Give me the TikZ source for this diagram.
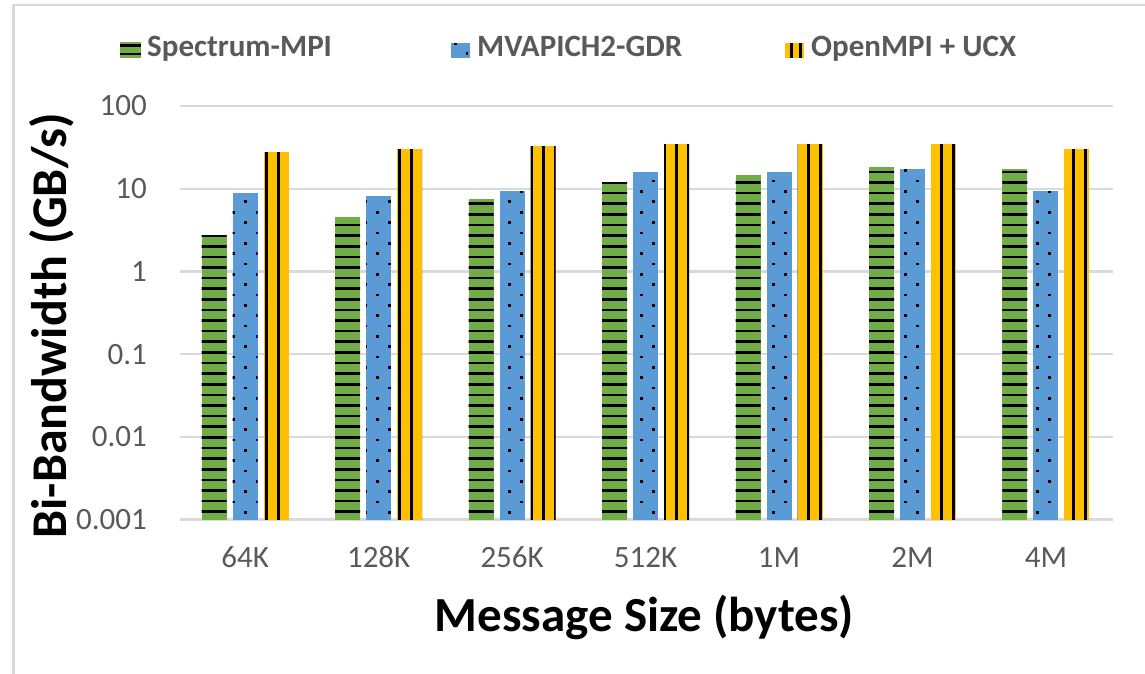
\documentclass[tikz,border=0pt]{standalone}
\usepackage{fontspec}
\setmainfont{Carlito}
\definecolor{gG}{HTML}{70AD47}
\definecolor{gB}{HTML}{5B9BD5}
\definecolor{gY}{HTML}{FFC000}
\definecolor{gridc}{HTML}{D9D9D9}
\definecolor{txtc}{HTML}{595959}
\newcommand\tickfont{\fontsize{31}{31}\selectfont}
\newcommand\legfont{\fontsize{31}{31}\selectfont\bfseries}
\newcommand\xtfont{\fontsize{49}{49}\selectfont\bfseries}
\newcommand\ytfont{\fontsize{50}{50}\selectfont\bfseries}
\newcommand\greenbar[2]{%
  \path[fill=gG] (#1-12.5,519.5) rectangle (#1+12.5,#2);
  \begin{scope}
    \clip (#1-12.5,519.5) rectangle (#1+12.5,#2);
    \foreach \k in {0,...,34}{\draw[black,line width=2.6pt] (#1-14,{511.7-10.62*\k}) -- (#1+14,{511.7-10.62*\k});}
  \end{scope}}
\newcommand\bluebar[2]{%
  \path[fill=gB] (#1-12.5,519.5) rectangle (#1+12.5,#2);
  \begin{scope}
    \clip (#1-12.5,519.5) rectangle (#1+12.5,#2);
    \foreach \j in {0,...,33}{%
      \pgfmathsetmacro\dy{512.3-10.35*\j}
      \pgfmathsetmacro\doff{245.7+12*mod(\j,2)}
      \pgfmathsetmacro\dst{floor((#1-12.5-\doff)/24)}
      \foreach \n in {0,1,2}{%
        \pgfmathsetmacro\dx{\doff+24*(\dst+\n)}
        \fill[black] (\dx-1.35,\dy-1.35) rectangle (\dx+1.35,\dy+1.35);
      }}
  \end{scope}}
\newcommand\yellowbar[2]{%
  \path[fill=gY] (#1-12.5,519.5) rectangle (#1+12.5,#2);
  \begin{scope}
    \clip (#1-12.5,519.5) rectangle (#1+12.5,#2);
    \pgfmathsetmacro\lst{floor((#1-12.5-266.5)/12.05)}
    \foreach \n in {0,1,2,3}{%
      \pgfmathsetmacro\lx{266.5+12.05*(\lst+\n)}
      \fill[black] (\lx-1.5,520) rectangle (\lx+1.5,#2);
    }
  \end{scope}}
\begin{document}
\begin{tikzpicture}[x=1pt,y=-1pt,
  gridline/.style={draw=gridc,line width=2.2pt},
  framel/.style={draw=gridc,line width=2.6pt},
  ticklab/.style={text=txtc,font=\tickfont,inner sep=0pt},
  leglab/.style={text=txtc,font=\legfont,inner sep=0pt,anchor=base west},
  title/.style={text=black,inner sep=0pt,anchor=base}]
\useasboundingbox (0,0) rectangle (1145,674);
% frame
\draw[framel] (13.3,674) -- (13.3,5) -- (1145,5);
% grid and tick labels
\foreach \v/\yy [count=\i] in {100/106,10/188.7,1/271.4,0.1/354.1,0.01/436.8,0.001/519.5}{
  \draw[gridline] (180,\yy) -- (1113,\yy);
  \node[ticklab,anchor=east] (tick\i) at (147,\yy) {\v};
}
% bars
\foreach \lab/\gt/\bt/\yt [count=\i from 0] in {64K/235/193/152,128K/217/196/149,256K/199/191/146,512K/182/172/144,1M/175/172/144,2M/167/169/144,4M/169/191/149}{
  \pgfmathsetmacro\cxm{245.2+133.46*\i}
  \pgfmathsetmacro\cxg{\cxm-31}
  \pgfmathsetmacro\cxy{\cxm+31}
  \greenbar{\cxg}{\gt}
  \bluebar{\cxm}{\bt}
  \yellowbar{\cxy}{\yt}
  \node[ticklab,anchor=base] (cat\i) at (\cxm,567) {\lab};
}
% legend
\path[fill=gG] (120,41.7) rectangle (141,58.3);
\draw[black,line width=2.4pt] (120,45.6) -- (141,45.6) (120,54) -- (141,54);
\node[leglab] (legG) at (147,57) {Spectrum-MPI};
\path[fill=gB] (451,42.7) rectangle (470,58.3);
\fill[black] (453.8,42.7) rectangle (456.5,45.4);
\fill[black] (465.5,52) rectangle (468.2,54.7);
\node[leglab] (legB) at (477,57) {MVAPICH2-GDR};
\path[fill=gY] (785,42.7) rectangle (804,58.3);
\fill[black] (790,42.7) rectangle (793,58.3);
\fill[black] (798.5,42.7) rectangle (801.5,58.3);
\node[leglab] (legY) at (811,57) {OpenMPI + UCX};
% axis titles
\node[title,font=\xtfont] (xtitle) at (644.5,631) {Message Size (bytes)};
\node[title,font=\ytfont,rotate=90] (ytitle) at (66,326) {Bi-Bandwidth (GB/s)};
\end{tikzpicture}
\end{document}
